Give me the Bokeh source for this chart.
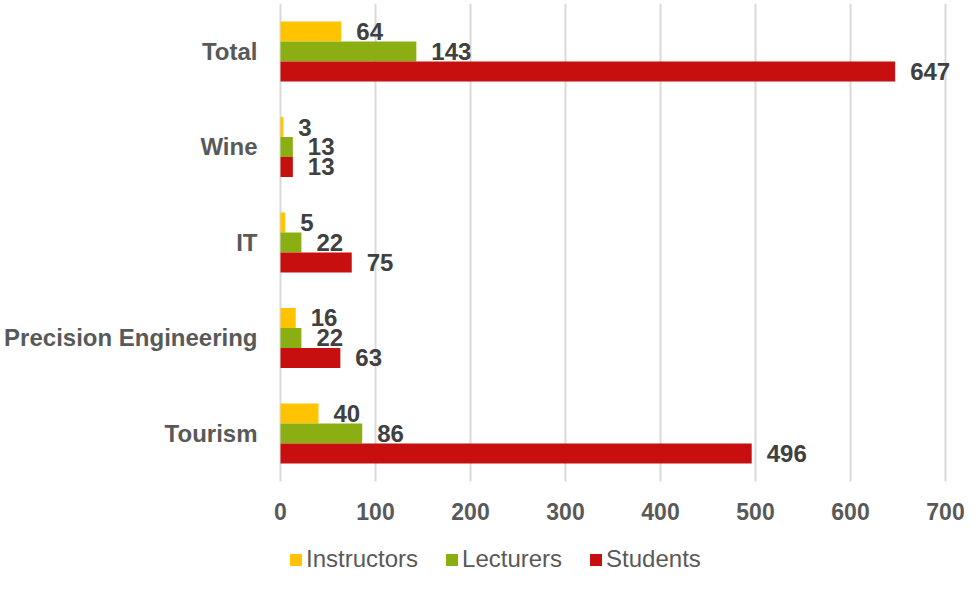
from bokeh.plotting import figure
from bokeh.models import ColumnDataSource, Range1d, FixedTicker, Legend, LegendItem
from bokeh.core.properties import value
from bokeh.embed import file_html
from bokeh.resources import INLINE

# ---- data ----
categories = ["Tourism", "Precision Engineering", "IT", "Wine", "Total"]
instructors = [40, 16, 5, 3, 64]
lecturers = [86, 22, 22, 13, 143]
students = [496, 63, 75, 13, 647]
x_ticks = [0, 100, 200, 300, 400, 500, 600, 700]

series = [
    ("Instructors", instructors, "#FFC300", 0.2094),
    ("Lecturers", lecturers, "#8BAF12", 0.0),
    ("Students", students, "#C70F0F", -0.2094),
]

FONT = "Liberation Sans"
BAR_H = 0.2094
Y_TOP = 4.5026
Y_BOT_PLOT = -0.5026
Y_BOT = -1.466
X_START = -18.95

p = figure(width=964, height=573, output_backend="svg", toolbar_location=None,
           x_range=Range1d(X_START, 720), y_range=Range1d(Y_BOT, Y_TOP),
           min_border_left=262, min_border_right=0, min_border_top=3, min_border_bottom=0)
p.outline_line_color = None
p.background_fill_color = "white"
p.border_fill_color = "white"
p.xaxis.visible = False
p.xgrid.grid_line_color = None
p.ygrid.grid_line_color = None

# vertical gridlines over the plotting area
p.segment(x0=x_ticks, x1=x_ticks, y0=[Y_BOT_PLOT] * len(x_ticks), y1=[Y_TOP] * len(x_ticks),
          line_color="#D9D9D9", line_width=2)

# x tick labels
p.text(x=x_ticks, y=[Y_BOT_PLOT] * len(x_ticks), text=[str(t) for t in x_ticks],
       y_offset=30, text_align="center", text_baseline="middle",
       text_font=value(FONT), text_font_style="bold",
       text_font_size="23px", text_color="#595959")

pos = list(range(len(categories)))
renderers = []
for name, vals, color, off in series:
    src = ColumnDataSource(dict(y=[i + off for i in pos], x=vals, lab=[str(v) for v in vals]))
    r = p.hbar(y="y", right="x", left=0, height=BAR_H, source=src,
               fill_color=color, line_color=None)
    renderers.append((name, r))
    p.text(x="x", y="y", text="lab", source=src, x_offset=15,
           text_align="left", text_baseline="middle",
           text_font=value(FONT), text_font_style="bold",
           text_font_size="24px", text_color="#404040")

# y axis (categories)
p.yaxis.ticker = FixedTicker(ticks=pos)
p.yaxis.major_label_overrides = {i: c for i, c in enumerate(categories)}
p.yaxis.axis_line_color = None
p.yaxis.major_tick_line_color = None
p.yaxis.minor_tick_line_color = None
p.yaxis.major_tick_out = 0
p.yaxis.major_label_standoff = 5
p.yaxis.major_label_text_font = FONT
p.yaxis.major_label_text_font_style = "bold"
p.yaxis.major_label_text_font_size = "24px"
p.yaxis.major_label_text_color = "#595959"

legend = Legend(items=[LegendItem(label=n, renderers=[r]) for n, r in renderers],
                orientation="horizontal", location=(26, 0),
                glyph_width=15, glyph_height=15, label_standoff=3, spacing=26,
                padding=0, margin=0, border_line_color=None, background_fill_alpha=0,
                label_text_font=FONT, label_text_font_size="24px",
                label_text_color="#595959", label_height=20)
p.add_layout(legend, "center")

open("out.html", "w").write(file_html(p, INLINE))
